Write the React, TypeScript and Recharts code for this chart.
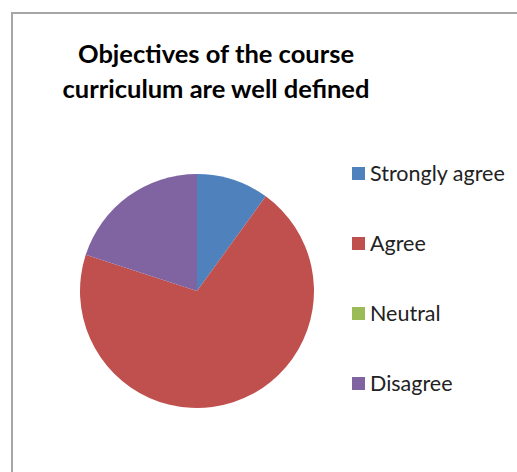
import { PieChart, Pie, Cell, Legend } from 'recharts';

const categories = ['Strongly agree', 'Agree', 'Neutral', 'Disagree'];
const values = [10, 70, 0, 20];
const colors = ['#4F81BD', '#C0504D', '#9BBB59', '#8064A2'];
const titleLines = ['Objectives of the course', 'curriculum are well defined'];

const data = categories.map((name, i) => ({ name, value: values[i] }));

const FONT = 'Lato, "Open Sans", sans-serif';

function LegendList({ payload }: { payload?: { value: string; color: string }[] }) {
  // keep the data order, not alphabetical
  const items = [...(payload || [])].sort((a, b) => categories.indexOf(a.value) - categories.indexOf(b.value));
  return (
    <div style={{ fontFamily: FONT, fontSize: 21.5, color: '#222' }}>
      {items.map((p) => (
        <div key={p.value} style={{ display: 'flex', alignItems: 'center', height: 70 }}>
          <span style={{ width: 13, height: 13, background: p.color, marginRight: 5, display: 'inline-block' }} />
          <span>{p.value}</span>
        </div>
      ))}
    </div>
  );
}

export default function App() {
  return (
    <div style={{ position: 'fixed', left: 0, top: 0, width: 517, height: 472, overflow: 'hidden', background: '#fff' }}>
      <div
        style={{
          position: 'absolute',
          left: 11,
          top: 12,
          width: 700,
          height: 700,
          borderLeft: '2px solid #a6a6a6',
          borderTop: '2px solid #a6a6a6',
        }}
      />
      <svg style={{ position: 'absolute', left: 0, top: 0 }} width={517} height={120}>
        {titleLines.map((t, i) => (
          <text
            key={t}
            x={216}
            y={63 + i * 35}
            textAnchor="middle"
            fontFamily={FONT}
            fontWeight="bold"
            fontSize={25.5}
            fill="#000"
          >
            {t}
          </text>
        ))}
      </svg>
      <div style={{ position: 'absolute', left: 0, top: 0 }}>
        <PieChart width={517} height={472} margin={{ top: 0, right: 0, bottom: 0, left: 0 }}>
          <Pie
            data={data}
            dataKey="value"
            nameKey="name"
            cx={197}
            cy={291}
            outerRadius={117}
            startAngle={90}
            endAngle={-270}
            stroke="none"
            isAnimationActive={false}
          >
            {data.map((d, i) => (
              <Cell key={d.name} fill={colors[i]} />
            ))}
          </Pie>
          <Legend
            layout="vertical"
            content={(props: any) => <LegendList payload={props.payload} />}
            wrapperStyle={{ position: 'absolute', left: 352, top: 138, width: 165 }}
          />
        </PieChart>
      </div>
    </div>
  );
}
